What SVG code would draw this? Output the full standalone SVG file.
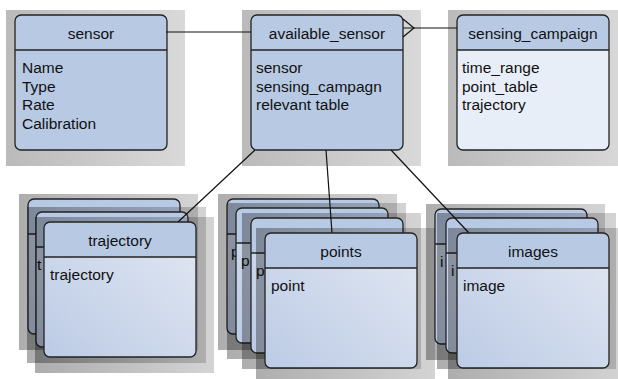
<svg xmlns="http://www.w3.org/2000/svg" xmlns:xlink="http://www.w3.org/1999/xlink" width="618" height="379" viewBox="0 0 618 379">
<defs>
<linearGradient id="shd" x1="0" y1="0" x2="1" y2="0">
<stop offset="0" stop-color="#000" stop-opacity="0.27"/>
<stop offset="1" stop-color="#000" stop-opacity="0.15"/>
</linearGradient>
<linearGradient id="shd2" x1="0" y1="0" x2="1" y2="0">
<stop offset="0" stop-color="#000" stop-opacity="0.32"/>
<stop offset="1" stop-color="#000" stop-opacity="0.17"/>
</linearGradient>
<linearGradient id="bodyG" x1="0" y1="1" x2="1" y2="0">
<stop offset="0" stop-color="#bccbe5"/>
<stop offset="1" stop-color="#e2e8f3"/>
</linearGradient>
<g id="frameA">
<rect width="152" height="135" rx="6" fill="#b8c9e4"/>
<line x1="0" y1="35" x2="152" y2="35" class="ln"/>
<rect width="152" height="135" rx="6" fill="none" class="ln"/>
</g>
<g id="frameB">
<rect width="152" height="135" rx="6" fill="url(#bodyG)"/>
<path d="M0,35V6Q0,0 6,0H146Q152,0 152,6V35Z" fill="#b8c9e4"/>
<line x1="0" y1="35" x2="152" y2="35" class="ln"/>
<rect width="152" height="135" rx="6" fill="none" class="ln"/>
</g>
<g id="frameC">
<rect width="152" height="135" rx="6" fill="#e8eef8"/>
<path d="M0,35V6Q0,0 6,0H146Q152,0 152,6V35Z" fill="#b8c9e4"/>
<line x1="0" y1="35" x2="152" y2="35" class="ln"/>
<rect width="152" height="135" rx="6" fill="none" class="ln"/>
</g>
<rect id="shadow" x="-9" y="-5" width="179" height="156" fill="url(#shd)"/>
<rect id="shadow2" x="-9" y="-5" width="179" height="156" fill="url(#shd2)"/>
</defs>
<style>
.ln{stroke:#222;stroke-width:1.3}
text{font-family:"Liberation Sans",Arial,sans-serif;font-size:15.5px;fill:#111}
.t{text-anchor:middle}
.conn{stroke:#111;stroke-width:1.2;fill:none}
</style>
<rect width="618" height="379" fill="#fff"/>

<g id="sensor" transform="translate(15,15)">
<use href="#shadow"/><use href="#frameA"/>
<text class="t" x="76" y="24">sensor</text>
<text x="7" y="58">Name</text>
<text x="7" y="76.5">Type</text>
<text x="7" y="95">Rate</text>
<text x="7" y="113.5">Calibration</text>
</g>

<g id="available_sensor" transform="translate(251,15)">
<use href="#shadow"/><use href="#frameA"/>
<text class="t" x="76" y="24">available_sensor</text>
<text x="5" y="58">sensor</text>
<text x="5" y="76.5">sensing_campagn</text>
<text x="5" y="95">relevant table</text>
</g>

<g id="sensing_campaign" transform="translate(457,15)">
<use href="#shadow"/><use href="#frameC"/>
<text class="t" x="76" y="24">sensing_campaign</text>
<text x="5" y="58">time_range</text>
<text x="5" y="76.5">point_table</text>
<text x="5" y="95">trajectory</text>
</g>

<g id="trajectory_stack">
<g transform="translate(28,199)">
<use href="#shadow2"/><use href="#frameB"/>
</g>
<g transform="translate(36,212)">
<use href="#shadow2"/><use href="#frameB"/>
<text x="1" y="58">t</text>
</g>
</g>

<g id="points_stack">
<g transform="translate(227,199)">
<use href="#shadow2"/><use href="#frameB"/>
<text x="4" y="58">p</text>
</g>
<g transform="translate(236,208)">
<use href="#shadow2"/><use href="#frameB"/>
<text x="5" y="58">p</text>
</g>
<g transform="translate(251,218)">
<use href="#shadow2"/><use href="#frameB"/>
<text x="5" y="58">p</text>
</g>
</g>

<g id="images_stack">
<g transform="translate(435,209)">
<use href="#shadow2"/><use href="#frameB"/>
<text x="5" y="58">i</text>
</g>
<g transform="translate(446,218)">
<use href="#shadow2"/><use href="#frameB"/>
<text x="5" y="58">i</text>
</g>
</g>

<g id="connectors">
<line class="conn" x1="166" y1="32" x2="251" y2="32"/>
<line class="conn" x1="403" y1="28" x2="457" y2="28"/>
<polyline class="conn" points="403,19 414,28 403,37"/>
<line class="conn" x1="255" y1="150" x2="178" y2="222"/>
<line class="conn" x1="326" y1="150" x2="332" y2="233"/>
<line class="conn" x1="391" y1="150" x2="469" y2="233"/>
</g>

<g id="trajectory" transform="translate(44,222)">
<use href="#shadow2"/><use href="#frameB"/>
<text class="t" x="76" y="24">trajectory</text>
<text x="6" y="58">trajectory</text>
</g>

<g id="points" transform="translate(265,233)">
<use href="#shadow2"/><use href="#frameB"/>
<text class="t" x="76" y="24">points</text>
<text x="6" y="58">point</text>
</g>

<g id="images" transform="translate(457,233)">
<use href="#shadow2"/><use href="#frameB"/>
<text class="t" x="76" y="24">images</text>
<text x="6" y="58">image</text>
</g>
</svg>
